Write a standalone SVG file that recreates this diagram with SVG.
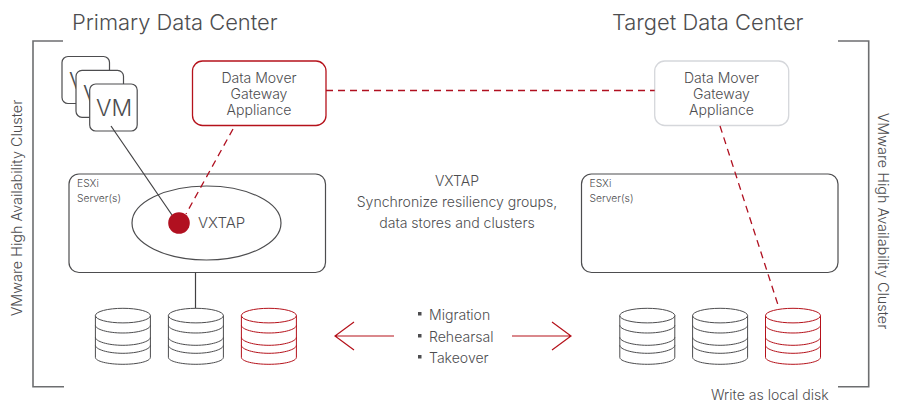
<svg xmlns="http://www.w3.org/2000/svg" width="898" height="402" viewBox="0 0 898 402">
<style>
text{font-family:"Inter","Liberation Sans",sans-serif;fill:#4d4d4f;font-weight:300}
.m{text-anchor:middle}
.b{fill:#fff;stroke:#4d4d4f;stroke-width:1.2}
.br{fill:none;stroke:#6d6e70;stroke-width:1.6}
.l{fill:none;stroke:#414042;stroke-width:1.2}
.d{fill:none;stroke:#b01020;stroke-width:1.3;stroke-dasharray:7 5}
.cg{fill:#fff;stroke:#4d4d4f;stroke-width:1}
.cr{fill:#fff;stroke:#b5121b;stroke-width:1}
.t14{font-size:14.050px}.t11{font-size:10.300px}
</style>
<defs>
<g id="cyl">
<path d="M0 7V49C0 53 12.300 56 27.500 56S55 53 55 49V7"/>
<ellipse cx="27.500" cy="7.300" rx="27.500" ry="7.300"/>
<path d="M0 17C0 21 12.300 24.700 27.500 24.700S55 21 55 17M0 29C0 33 12.300 37 27.500 37S55 33 55 29M0 37C0 41 12.300 45 27.500 45S55 41 55 37" fill="none"/>
</g>
</defs>
<rect width="898" height="402" fill="#fff"/>
<text id="title-primary" x="72" y="30" font-size="21.900">Primary Data Center</text>
<text id="title-target" x="612" y="30" font-size="21.900">Target Data Center</text>
<g id="bracket-left"><path class="br" d="M63 41H33V386.700H64"/><text class="t14" transform="translate(22 208) rotate(-90)" text-anchor="middle" font-size="14.400" style="font-size:14.400px">VMware High Availability Cluster</text></g>
<g id="bracket-right"><path class="br" d="M838 41H868.700V386.700H838"/><text class="t14" transform="translate(878 221) rotate(90)" text-anchor="middle" style="font-size:14.400px">VMware High Availability Cluster</text></g>
<g id="esxi-primary"><rect class="b" x="69" y="174" width="256.500" height="98.500" rx="10"/><text class="t11" x="77" y="187">ESXi</text><text class="t11" x="77" y="201.500">Server(s)</text></g>
<g id="esxi-target"><rect class="b" x="581.500" y="174" width="256.500" height="98.500" rx="10"/><text class="t11" x="589.500" y="187">ESXi</text><text class="t11" x="589.500" y="201.500">Server(s)</text></g>
<g id="vxtap-ellipse"><ellipse class="b" cx="206.500" cy="223" rx="74.500" ry="37"/><text x="198" y="228" font-size="15">VXTAP</text></g>
<g id="vm-1"><rect class="b" x="62" y="56.500" width="47.500" height="47" rx="6"/><text x="69" y="88.500" font-size="23">V</text></g>
<g id="vm-2"><rect class="b" x="76" y="70.300" width="47.500" height="47" rx="6"/><text x="83" y="102.300" font-size="23">V</text></g>
<g id="vm-3"><rect class="b" x="89.700" y="84" width="47.500" height="47" rx="6"/><text x="114" y="116" font-size="23" class="m">VM</text></g>
<g id="gateway-primary"><rect x="192.500" y="61" width="133.500" height="64.500" rx="10" fill="#fff" stroke="#b5121b" stroke-width="1.300"/><text class="t14 m" x="259" y="83">Data Mover</text><text class="t14 m" x="259" y="99">Gateway</text><text class="t14 m" x="259" y="115">Appliance</text></g>
<g id="gateway-target"><rect x="654.700" y="61" width="134" height="64.500" rx="10" fill="#fff" stroke="#d5d7db" stroke-width="1.300"/><text class="t14 m" x="721.500" y="83">Data Mover</text><text class="t14 m" x="721.500" y="99">Gateway</text><text class="t14 m" x="721.500" y="115">Appliance</text></g>
<g id="connectors">
<path class="l" d="M111 126L172 215"/>
<path class="l" d="M195.500 272.500V308.500"/>
<path class="d" d="M326 90.500H654.700"/>
<path class="d" d="M233 129L186 214"/>
<path class="d" d="M720 126L779 308"/>
<path fill="none" stroke="#b5121b" stroke-width="1.200" d="M394 336H335M354 322L335 336L354 350"/>
<path fill="none" stroke="#b5121b" stroke-width="1.200" d="M512 336H571M552 322L571 336L552 350"/>
</g>
<circle id="vxtap-dot" cx="179" cy="223" r="10.800" fill="#b11020"/>
<g id="disk-p1" class="cg"><use href="#cyl" x="95.400" y="308.300"/></g>
<g id="disk-p2" class="cg"><use href="#cyl" x="168.400" y="308.300"/></g>
<g id="disk-p3" class="cr"><use href="#cyl" x="241.400" y="308.300"/></g>
<g id="disk-t1" class="cg"><use href="#cyl" x="619.800" y="308.300"/></g>
<g id="disk-t2" class="cg"><use href="#cyl" x="692.600" y="308.300"/></g>
<g id="disk-t3" class="cr"><use href="#cyl" x="765.500" y="308.300"/></g>
<g id="sync-label"><text class="t14 m" x="457" y="186">VXTAP</text><text class="t14 m" x="457" y="207">Synchronize resiliency groups,</text><text class="t14 m" x="457" y="228">data stores and clusters</text></g>
<g id="ops-label"><rect x="418" y="312" width="3.500" height="3.500" fill="#4d4d4f"/><rect x="418" y="334" width="3.500" height="3.500" fill="#4d4d4f"/><rect x="418" y="355" width="3.500" height="3.500" fill="#4d4d4f"/>
<text class="t14" x="429" y="320">Migration</text><text class="t14" x="429" y="342">Rehearsal</text><text class="t14" x="429" y="363">Takeover</text></g>
<text id="write-label" class="t14" x="711" y="400">Write as local disk</text>
</svg>
